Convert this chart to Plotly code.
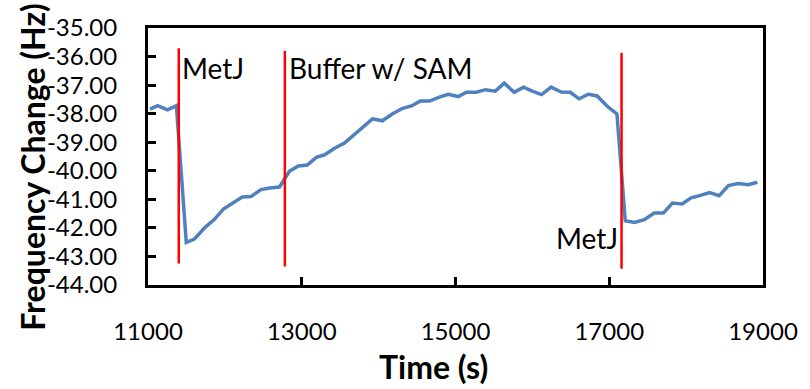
import plotly.graph_objects as go

time_s = [11026, 11125, 11253, 11369, 11498, 11604, 11746, 11862, 11981, 12097,
          12226, 12341, 12470, 12582, 12711, 12839, 12955, 13071, 13190, 13298,
          13427, 13556, 13662, 13791, 13920, 14048, 14177, 14305, 14434, 14541,
          14662, 14790, 14906, 15035, 15142, 15270, 15390, 15518, 15634, 15763,
          15884, 15999, 16119, 16244, 16376, 16492, 16608, 16728, 16843, 16977,
          17100, 17208, 17328, 17457, 17585, 17705, 17821, 17949, 18065, 18186,
          18305, 18430, 18550, 18678, 18807, 18927]
freq_hz = [-37.84, -37.72, -37.87, -37.72, -42.51, -42.39, -41.97, -41.71, -41.34, -41.15,
           -40.92, -40.90, -40.66, -40.60, -40.57, -40.02, -39.83, -39.80, -39.53, -39.44,
           -39.21, -39.03, -38.78, -38.45, -38.18, -38.25, -38.01, -37.82, -37.72, -37.56,
           -37.56, -37.42, -37.32, -37.40, -37.25, -37.25, -37.16, -37.21, -36.93, -37.25,
           -37.07, -37.21, -37.33, -37.07, -37.24, -37.25, -37.48, -37.32, -37.38, -37.75,
           -38.01, -41.75, -41.81, -41.71, -41.48, -41.48, -41.13, -41.16, -40.95, -40.86,
           -40.76, -40.87, -40.52, -40.45, -40.49, -40.40]

# injection markers (time, top, bottom)
event_times = [11400, 12780, 17160]
event_tops = [-35.71, -35.80, -35.87]
event_bottoms = [-43.25, -43.35, -43.43]

# labels for injections
label_texts = ["MetJ", "Buffer w/ SAM", "MetJ"]
label_x = [11420, 12810, 17140]
label_y = [-36.40, -36.40, -42.34]
label_anchor = ["left", "left", "right"]

x_ticks = [11000, 13000, 15000, 17000, 19000]
y_ticks = [-35, -36, -37, -38, -39, -40, -41, -42, -43, -44]

x_title = "Time (s)"
y_title = "Frequency Change (Hz)"

FONT = "Lato"
W, H = 810, 389
ML, MR, MT, MB = 148, 38, 28, 104

fig = go.Figure()
fig.add_trace(go.Scatter(
    x=time_s, y=freq_hz, mode="lines",
    line=dict(color="#4F81BD", width=3.5),
    showlegend=False, hoverinfo="skip",
))

for t, y0, y1 in zip(event_times, event_tops, event_bottoms):
    fig.add_shape(type="line", x0=t, x1=t, y0=y0, y1=y1, xref="x", yref="y",
                  line=dict(color="#FF0000", width=2.5), layer="above")

for txt, x, y, a in zip(label_texts, label_x, label_y, label_anchor):
    fig.add_annotation(x=x, y=y, text=txt, showarrow=False, xanchor=a, yanchor="middle",
                       font=dict(family=FONT, size=28, color="black"))

pw, ph = W - ML - MR, H - MT - MB
# axis titles placed as annotations (Excel-style offsets)
fig.add_annotation(x=(438 - ML) / pw, y=-(366 - (H - MB)) / ph, xref="paper", yref="paper",
                   text=f"<b>{x_title}</b>", showarrow=False, xanchor="center", yanchor="middle",
                   font=dict(family=FONT, size=32, color="black"))
fig.add_annotation(x=(30 - ML) / pw, y=((H - MB) - 167) / ph, xref="paper", yref="paper",
                   text=f"<b>{y_title}</b>", showarrow=False, textangle=-90,
                   xanchor="center", yanchor="middle",
                   font=dict(family=FONT, size=32, color="black"))

fig.update_layout(
    width=W, height=H,
    margin=dict(l=ML, r=MR, t=MT, b=MB),
    paper_bgcolor="white", plot_bgcolor="white",
    font=dict(family=FONT, color="black"),
)
fig.update_xaxes(
    range=[11000, 19000], tickvals=x_ticks, ticktext=[str(v) for v in x_ticks],
    ticks="inside", ticklen=8, tickwidth=2.5, tickcolor="black",
    showline=True, linecolor="black", linewidth=3, mirror=True,
    showgrid=False, zeroline=False,
    tickfont=dict(family=FONT, size=24, color="black"),
    ticklabelstandoff=23,
)
fig.update_yaxes(
    range=[-44, -35], tickvals=y_ticks, ticktext=[f"{v:.2f}" for v in y_ticks],
    ticks="inside", ticklen=8, tickwidth=2.5, tickcolor="black",
    showline=True, linecolor="black", linewidth=3, mirror=True,
    showgrid=False, zeroline=False,
    tickfont=dict(family=FONT, size=24, color="black"),
    ticklabelstandoff=23,
)

fig.write_html("out.html")
